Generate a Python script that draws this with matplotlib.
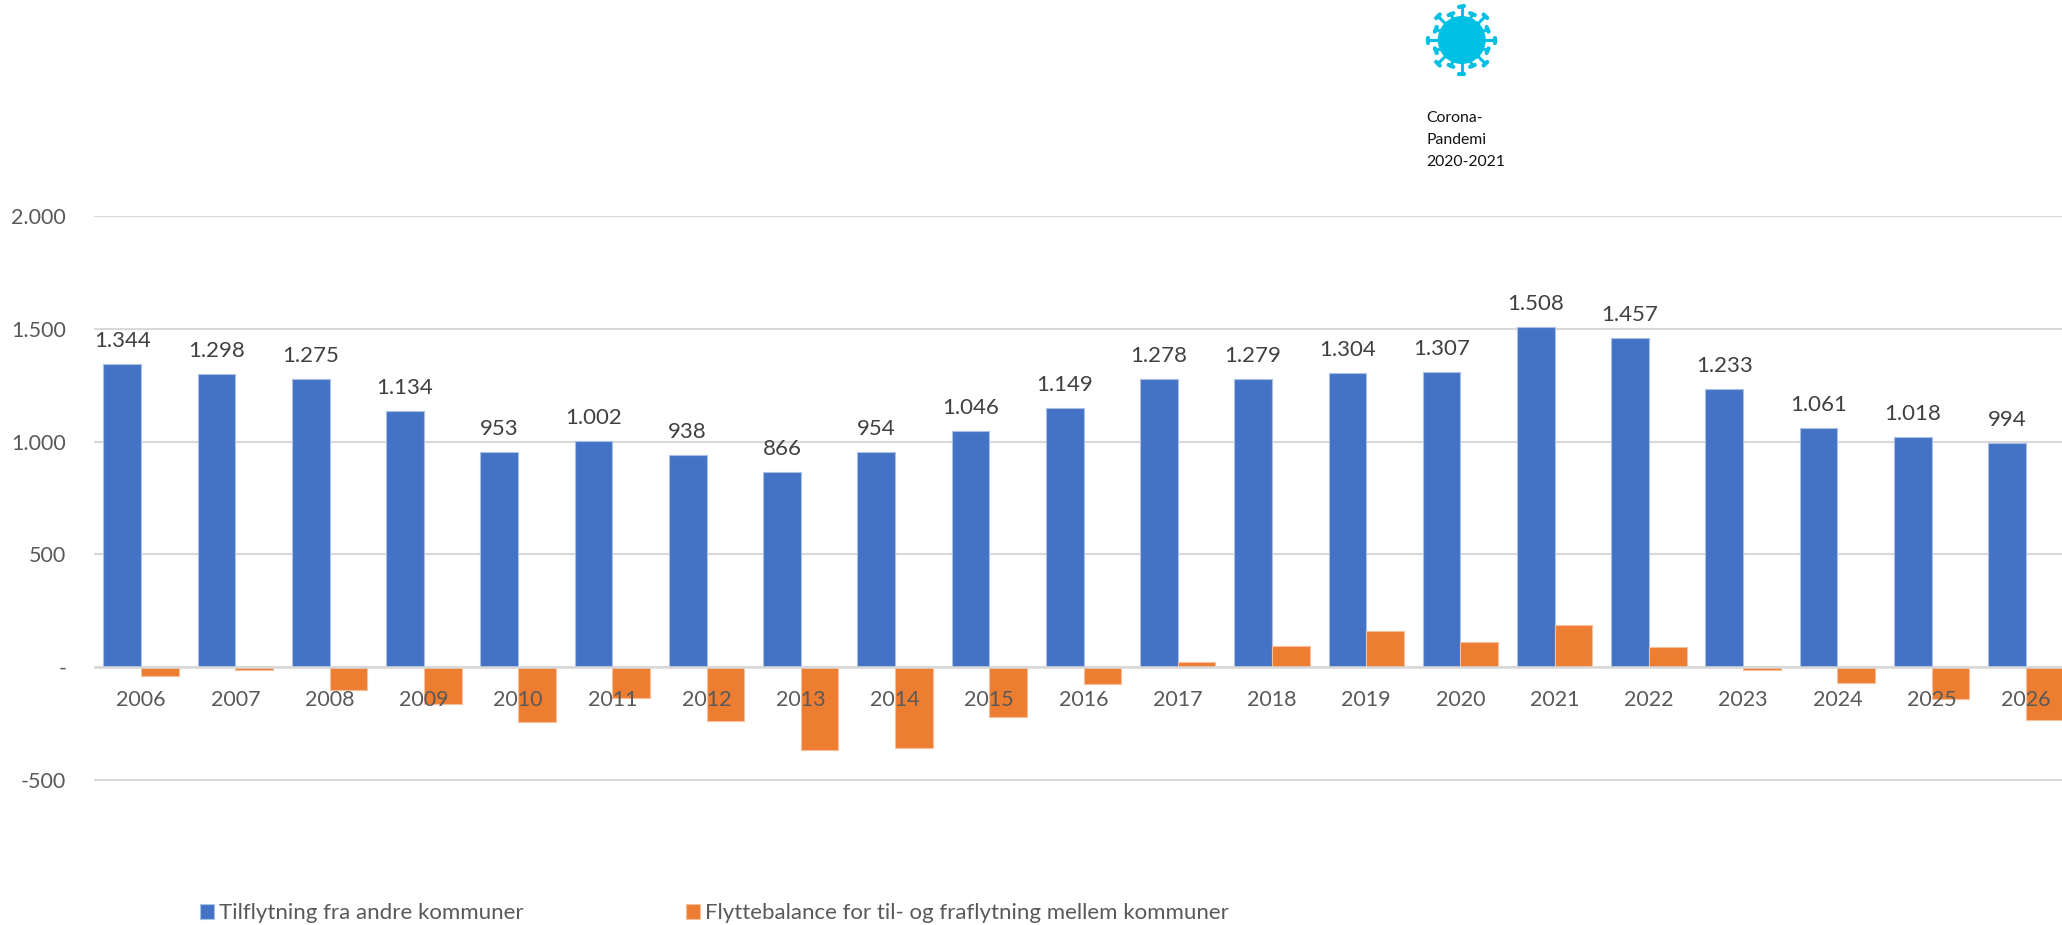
import numpy as np
from matplotlib import pyplot as plt
from matplotlib.patches import Circle

plt.rcParams['font.family'] = ['Lato', 'DejaVu Sans']

years = [str(y) for y in range(2006, 2027)]
tilflytning = [1344, 1298, 1275, 1134, 953, 1002, 938, 866, 954, 1046, 1149,
               1278, 1279, 1304, 1307, 1508, 1457, 1233, 1061, 1018, 994]
balance = [-41, -12, -100, -163, -245, -139, -240, -367, -360, -221, -75,
           24, 93, 158, 111, 187, 90, -12, -70, -144, -236]
y_ticks = [-500, 0, 500, 1000, 1500, 2000]
y_labels = ['-500', '-', '500', '1.000', '1.500', '2.000']
legend_labels = ['Tilflytning fra andre kommuner',
                 'Flyttebalance for til- og fraflytning mellem kommuner']

W, H = 2062, 925
BLUE = '#4472c4'
ORANGE = '#ed7d31'
GREY = '#595959'

fig = plt.figure(figsize=(W / 100, H / 100), dpi=100)
# axes run past the right edge, the reference is cropped there
left, right = 94, 2073
y0, y2000 = 667, 216
ymin, ymax = -600, 2000
px = (y0 - y2000) / 2000
bottom_px = y0 - ymin * px
ax = fig.add_axes([left / W, 1 - bottom_px / H, (right - left) / W, (bottom_px - y2000) / H])

x = np.arange(len(years))
w = 0.4
ax.bar(x - w / 2, tilflytning, w, color=BLUE, edgecolor='#a9bfe6', linewidth=0.8,
       label=legend_labels[0], zorder=2)
ax.bar(x + w / 2, balance, w, color=ORANGE, edgecolor='#f6c09c', linewidth=0.8,
       label=legend_labels[1], zorder=2)

for i, v in enumerate(tilflytning):
    s = '{:,}'.format(v).replace(',', '.')
    ax.text(i - w / 2, v + 58, s, ha='center', va='bottom', fontsize=16, color='#404040', zorder=4)

ax.set_xlim(-0.5, len(years) - 0.5)
ax.set_ylim(ymin, ymax)
ax.set_yticks(y_ticks)
ax.set_yticklabels(y_labels, fontsize=15.5, color=GREY)
ax.set_xticks(x)
ax.set_xticklabels(years, fontsize=15.5, color=GREY)
ax.tick_params(axis='both', length=0)
ax.tick_params(axis='y', pad=20)
# year labels sit just under the zero line, over the orange bars
ax.tick_params(axis='x', pad=-(bottom_px - y0 - 22.5) * 0.72)
ax.grid(axis='y', color='#d9d9d9', linewidth=1.5)
ax.set_axisbelow(True)
ax.xaxis.set_zorder(5)
for s in ax.spines.values():
    s.set_visible(False)
ax.axhline(0, color='#d9d9d9', linewidth=1.8, zorder=3)

fig.legend(loc='lower left', bbox_to_anchor=(182.5 / W, 1 - 941 / H), ncol=2, frameon=False,
           fontsize=16, labelcolor=GREY, handlelength=0.63, handleheight=0.63,
           handletextpad=0.22, columnspacing=7.3, borderpad=0.3)

# corona icon
cx, cy, r = 1461.7, 40, 24
icon = '#00c0e4'
ia = fig.add_axes([0, 0, 1, 1], facecolor='none')
ia.set_xlim(0, W)
ia.set_ylim(H, 0)
ia.axis('off')
ia.add_patch(Circle((cx, cy), r, color=icon, lw=0))
for k in range(16):
    a = k * np.pi / 8
    L = 33.5 if k % 2 == 0 else 28
    ca, sa = np.cos(a), np.sin(a)
    ia.plot([cx + (r - 2) * ca, cx + L * ca], [cy + (r - 2) * sa, cy + L * sa], color=icon,
            lw=2.2, solid_capstyle='butt')
    nx, ny = -sa * 2.5, ca * 2.5
    ia.plot([cx + L * ca - nx, cx + L * ca + nx], [cy + L * sa - ny, cy + L * sa + ny],
            color=icon, lw=3, solid_capstyle='round')
ia.text(1426, 140, 'Corona-\nPandemi\n2020-2021', fontsize=11.3, color='#111111', va='center',
        ha='left', linespacing=1.76)

fig.savefig('out.png', dpi=100)
